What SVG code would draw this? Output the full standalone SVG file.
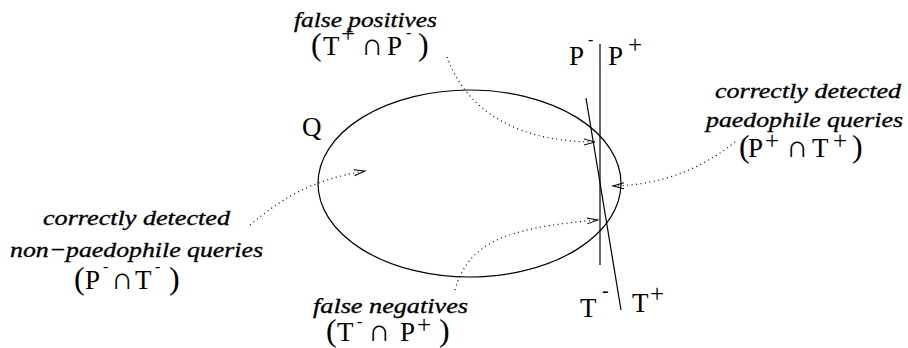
<svg xmlns="http://www.w3.org/2000/svg" width="908" height="348" viewBox="0 0 908 348">
<style>
.it { font-family: "Liberation Serif", "Times New Roman", serif; font-style: italic; font-size: 22px; fill: #000; stroke: #000; stroke-width: 0.35; }
.m { font-family: "Liberation Serif", "Times New Roman", serif; font-size: 27px; fill: #000; }
.par { font-size: 32px; }
.pl { font-size: 25px; }
.mi { font-size: 16px; }
.cap { font-size: 31px; }
.line { fill: none; stroke: #000; stroke-width: 1.2; }
.dot { fill: none; stroke: #000; stroke-width: 1.2; stroke-dasharray: 1 3.5; marker-end: url(#arr); }
</style>
<defs>
<marker id="arr" markerUnits="userSpaceOnUse" markerWidth="14" markerHeight="10" viewBox="0 0 14 10" refX="12" refY="5" orient="auto">
<path d="M1,2 L12,5 L1,8" fill="none" stroke="#000" stroke-width="1"/>
</marker>
</defs>
<g id="set-Q">
<ellipse cx="469.5" cy="183.5" rx="151.5" ry="93.5" class="line"/>
<text class="m" x="302" y="136" font-size="26">Q</text>
</g>
<g id="line-P">
<line x1="600" y1="44" x2="600" y2="265" class="line"/>
<text class="m" y="65"><tspan x="569">P</tspan><tspan class="mi" x="588" y="45">-</tspan><tspan class="pl" x="628" y="52.5">+</tspan><tspan x="608" y="65">P</tspan></text>
</g>
<g id="line-T">
<line x1="586" y1="98" x2="621" y2="310" class="line"/>
<text class="m" y="317"><tspan x="580">T</tspan><tspan font-size="20" x="602" y="296.5">-</tspan><tspan x="632" y="312">T</tspan><tspan class="pl" x="650" y="301.5">+</tspan></text>
</g>
<g id="false-positives">
<text class="it" x="294" y="27" textLength="143" lengthAdjust="spacingAndGlyphs">false positives</text>
<text class="m" y="55"><tspan class="par" x="311">(</tspan><tspan x="323">T</tspan><tspan class="pl" x="341" y="42">+</tspan><tspan class="cap" x="361" y="55">∩</tspan><tspan x="387">P</tspan><tspan class="mi" x="406" y="38">-</tspan><tspan class="par" x="418" y="55">)</tspan></text>
</g>
<g id="true-positives">
<text class="it" x="715" y="98" textLength="186" lengthAdjust="spacingAndGlyphs">correctly detected</text>
<text class="it" x="706" y="127" textLength="197" lengthAdjust="spacingAndGlyphs">paedophile queries</text>
<text class="m" y="157"><tspan class="par" x="739">(</tspan><tspan x="748">P</tspan><tspan class="pl" x="765" y="149">+</tspan><tspan class="cap" x="786" y="157">∩</tspan><tspan x="812">T</tspan><tspan class="pl" x="833" y="149">+</tspan><tspan class="par" x="852" y="157">)</tspan></text>
</g>
<g id="true-negatives">
<text class="it" x="43" y="225" textLength="187" lengthAdjust="spacingAndGlyphs">correctly detected</text>
<text class="it" x="10" y="257" textLength="253" lengthAdjust="spacingAndGlyphs">non−paedophile queries</text>
<text class="m" y="289"><tspan class="par" x="74">(</tspan><tspan x="85">P</tspan><tspan class="mi" x="103" y="272">-</tspan><tspan class="cap" x="111" y="289">∩</tspan><tspan x="135">T</tspan><tspan class="mi" x="155" y="272">-</tspan><tspan class="par" x="169" y="289">)</tspan></text>
</g>
<g id="false-negatives">
<text class="it" x="313" y="313" textLength="155" lengthAdjust="spacingAndGlyphs">false negatives</text>
<text class="m" y="341"><tspan class="par" x="326">(</tspan><tspan x="337">T</tspan><tspan class="mi" x="357" y="327">-</tspan><tspan class="cap" x="368" y="341">∩</tspan><tspan x="400">P</tspan><tspan class="pl" x="417" y="333">+</tspan><tspan class="par" x="439" y="341">)</tspan></text>
</g>
<g id="connectors">
<path class="dot" d="M447,57 C470,120 530,142 595,142"/>
<path class="dot" d="M735,142 C700,170 660,185 613,186"/>
<path class="dot" d="M250,225 C280,200 310,180 365,171"/>
<path class="dot" d="M455,290 C468,245 500,228 598,220"/>
</g>
</svg>
